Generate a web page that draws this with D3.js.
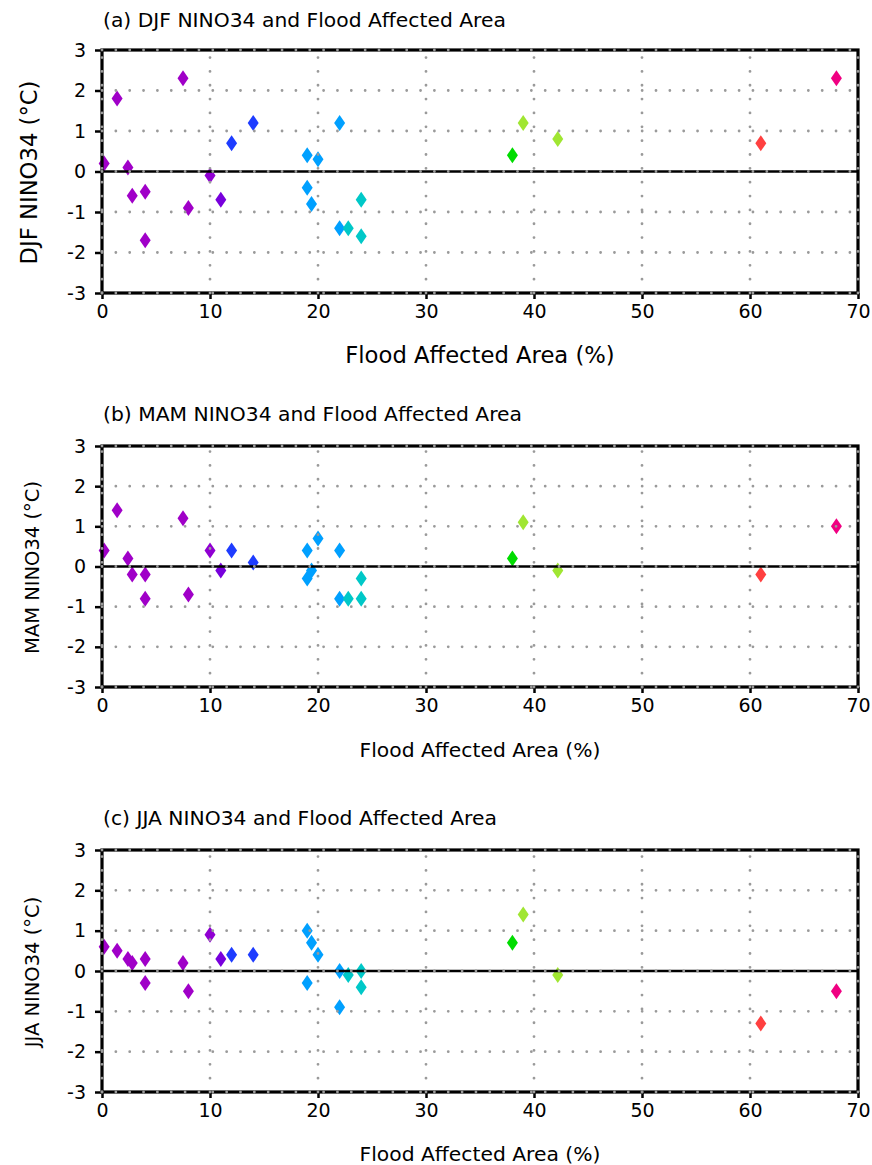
<!DOCTYPE html>
<html>
<head>
<meta charset="utf-8">
<script src="https://cdn.jsdelivr.net/npm/d3@7"></script>
<style>
  html, body { margin: 0; padding: 0; background: #fff; }
  svg { display: block; font-family: "DejaVu Sans", sans-serif; }
</style>
</head>
<body>
<svg id="chart" width="872" height="1165"></svg>
<script>
// ---- data ----
const floodArea = [0.2, 1.4, 2.4, 2.8, 4.0, 4.0, 7.5, 8.0, 10.0, 11.0, 12.0, 14.0, 19.0, 19.0, 19.4, 20.0, 22.0, 22.0, 22.8, 24.0, 24.0, 38.0, 39.0, 42.2, 61.0, 68.0];
const djf = [0.2, 1.8, 0.1, -0.6, -0.5, -1.7, 2.3, -0.9, -0.1, -0.7, 0.7, 1.2, 0.4, -0.4, -0.8, 0.3, 1.2, -1.4, -1.4, -0.7, -1.6, 0.4, 1.2, 0.8, 0.7, 2.3];
const mam = [0.4, 1.4, 0.2, -0.2, -0.2, -0.8, 1.2, -0.7, 0.4, -0.1, 0.4, 0.1, 0.4, -0.3, -0.1, 0.7, 0.4, -0.8, -0.8, -0.3, -0.8, 0.2, 1.1, -0.1, -0.2, 1.0];
const jja = [0.6, 0.5, 0.3, 0.2, 0.3, -0.3, 0.2, -0.5, 0.9, 0.3, 0.4, 0.4, 1.0, -0.3, 0.7, 0.4, 0.0, -0.9, -0.1, 0.0, -0.4, 0.7, 1.4, -0.1, -1.3, -0.5];
const xTicks = [0, 10, 20, 30, 40, 50, 60, 70];
const yTicks = [-3, -2, -1, 0, 1, 2, 3];
const panelTitles = ["(a) DJF NINO34 and Flood Affected Area", "(b) MAM NINO34 and Flood Affected Area", "(c) JJA NINO34 and Flood Affected Area"];
const yLabels = ["DJF NINO34 (°C)", "MAM NINO34 (°C)", "JJA NINO34 (°C)"];
const xLabel = "Flood Affected Area (%)";
const series = [djf, mam, jja];

// colour bins along flood area
const colorBreaks = [10, 10.5, 11.5, 15, 22.5, 30, 38.5, 50, 65];
const colorList = ["#a000c8", "#9000d2", "#7800dc", "#1e3cff", "#00a0ff", "#00c8c8", "#00dc00", "#a0e632", "#ff4040", "#f00082"];
const color = d3.scaleThreshold().domain(colorBreaks).range(colorList);

// ---- layout ----
const svg = d3.select("#chart");
const L = 102, R = 858;
const panels = [
  {top: 50, bottom: 293, titleY: 27, xlabY: 363, xlabSize: 22.7, ylabX: 29, ylabSize: 22.7},
  {top: 446, bottom: 687, titleY: 421, xlabY: 757, xlabSize: 20.3, ylabX: 32, ylabSize: 19.5},
  {top: 850, bottom: 1092, titleY: 825, xlabY: 1161, xlabSize: 20.3, ylabX: 32, ylabSize: 19.5}
];

const x = d3.scaleLinear().domain([0, 70]).range([L, R]);
const diamond = "M0,-8L5.5,0L0,8L-5.5,0Z";

panels.forEach((p, i) => {
  const y = d3.scaleLinear().domain([-3, 3]).range([p.bottom, p.top]);
  const g = svg.append("g");
  const vals = series[i];

  // markers
  g.append("g").selectAll("path")
    .data(floodArea.map((fa, k) => ({fa, v: vals[k]})))
    .join("path")
    .attr("d", diamond)
    .attr("transform", d => `translate(${x(d.fa)},${y(d.v)})`)
    .attr("fill", d => color(d.fa));

  // zero line
  g.append("line")
    .attr("x1", L).attr("x2", R)
    .attr("y1", y(0)).attr("y2", y(0))
    .attr("stroke", "#000").attr("stroke-width", 2.5);

  // border
  g.append("rect")
    .attr("x", L).attr("y", p.top)
    .attr("width", R - L).attr("height", p.bottom - p.top)
    .attr("fill", "none").attr("stroke", "#000").attr("stroke-width", 3.2);

  // axes ticks
  const xAxis = d3.axisBottom(x).tickValues(xTicks).tickSize(6).tickPadding(6).tickFormat(d3.format("d"));
  const gx = g.append("g").attr("transform", `translate(0,${p.bottom})`).call(xAxis);
  gx.select(".domain").remove();
  gx.selectAll(".tick line").attr("stroke", "#000").attr("stroke-width", 2.5);
  gx.selectAll(".tick text").attr("font-size", 19).attr("font-family", "DejaVu Sans").attr("fill", "#000");

  const yAxis = d3.axisLeft(y).tickValues(yTicks).tickSize(7).tickPadding(9).tickFormat(d3.format("d"));
  const gy = g.append("g").attr("transform", `translate(${L},0)`).call(yAxis);
  gy.select(".domain").remove();
  gy.selectAll(".tick line").attr("stroke", "#000").attr("stroke-width", 2.5);
  gy.selectAll(".tick text").attr("font-size", 19).attr("font-family", "DejaVu Sans").attr("fill", "#000")
    .text(d => d < 0 ? "-" + Math.abs(d) : d);

  // dotted grid (drawn on top)
  const grid = g.append("g").attr("stroke", "#9a9a9a").attr("stroke-width", 2.8)
    .attr("stroke-linecap", "round").attr("stroke-dasharray", "0,13.85");
  grid.selectAll("line.h").data(yTicks).join("line").attr("class", "h")
    .attr("x1", L).attr("x2", R).attr("y1", d => y(d)).attr("y2", d => y(d));
  grid.selectAll("line.v").data(xTicks).join("line").attr("class", "v")
    .attr("x1", d => x(d)).attr("x2", d => x(d)).attr("y1", p.bottom).attr("y2", p.top);

  // title
  svg.append("text").attr("x", L + 1).attr("y", p.titleY)
    .attr("font-size", 20.3).attr("fill", "#000").text(panelTitles[i]);

  // x label
  svg.append("text").attr("x", 480).attr("y", p.xlabY)
    .attr("text-anchor", "middle").attr("font-size", p.xlabSize).attr("fill", "#000").text(xLabel);

  // y label
  svg.append("text")
    .attr("transform", `translate(${p.ylabX},${(p.top + p.bottom) / 2 + 1}) rotate(-90)`)
    .attr("text-anchor", "middle").attr("dominant-baseline", "central")
    .attr("font-size", p.ylabSize).attr("fill", "#000").text(yLabels[i]);
});
</script>
</body>
</html>
